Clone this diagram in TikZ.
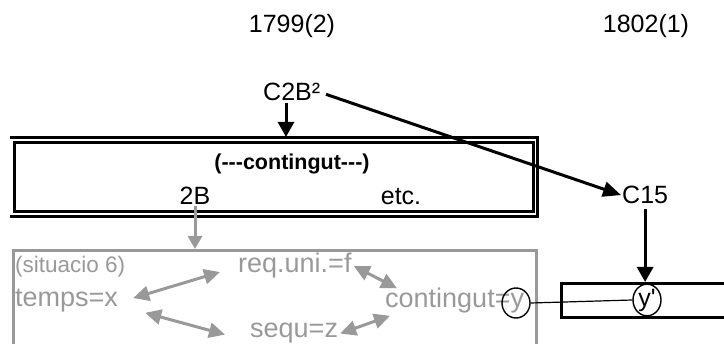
\documentclass[tikz,border=0pt]{standalone}
\usepackage{fontspec}
\newfontfamily\arial{Liberation Sans}
\usetikzlibrary{arrows.meta,shapes.geometric}

\definecolor{grau}{gray}{0.6}

\tikzset{
  schrift/.style={font=\arial\fontsize{25}{30}\selectfont, inner sep=0pt},
  grauschrift/.style={font=\arial\fontsize{27}{32}\selectfont, text=grau, inner sep=0pt},
  pfeil/.style={line width=3pt, -{Triangle[length=15pt,width=16pt]}},
  langpfeil/.style={line width=3pt, -{Triangle[length=18pt,width=15pt]}},
  graupfeil/.style={draw=grau, line width=3pt, {Triangle[length=16pt,width=15pt]}-{Triangle[length=16pt,width=15pt]}},
  grauab/.style={draw=grau, line width=3pt, -{Triangle[length=13pt,width=14pt]}},
  kreis/.style={ellipse, draw, line width=1.4pt, minimum width=28pt, minimum height=30pt, inner sep=0pt},
}

\begin{document}
\begin{tikzpicture}[x=1pt,y=-1pt]
    \useasboundingbox (0,0) rectangle (724,344);

    % jahre
    \node[schrift, anchor=base] (jahr1) at (292,33) {1799(2)};
    \node[schrift, anchor=base] (jahr2) at (646,33) {1802(1)};

    % kasten oben
    \node[draw, line width=3pt, minimum width=519pt, minimum height=69pt, inner sep=0pt] (kasten) at (273.5,177.5) {};
    \draw[line width=3pt] (10,138) -| (537,217) -- (10,217);
    \node[font=\arial\bfseries\fontsize{21.5}{26}\selectfont, inner sep=0pt, anchor=base] (inhalt) at (292,170) {(-\kern0pt-\kern0pt-contingut-\kern0pt-\kern0pt-)};
    \node[schrift, anchor=base] (zwei) at (195,205) {2B};
    \node[schrift, anchor=base] (etc) at (401,205) {etc.};

    \node[schrift, anchor=base west] (c2b) at (263,101) {C2B²};
    \node[schrift, anchor=base west] (c15) at (622,204) {C15};

    % kasten unten (grau)
    \node[draw=grau, line width=3pt, anchor=north west, minimum width=523pt, minimum height=150pt, inner sep=0pt] (gbox) at (12,249) {};
    \node[font=\arial\fontsize{22.5}{27}\selectfont, text=grau, inner sep=0pt, anchor=base west] (situ) at (15,273) {(situacio 6)};
    \node[grauschrift, anchor=base west] (temps) at (15,307) {temps=x};
    \node[grauschrift, anchor=base west] (req) at (238,273) {req.uni.=f};
    \node[grauschrift, anchor=base west] (cont) at (385,308) {contingut=y};
    \node[grauschrift, anchor=base west] (sequ) at (250,338) {sequ=z};

    % kasten rechts
    \node[draw, line width=3pt, anchor=north west, minimum width=200pt, minimum height=34pt, inner sep=0pt] (rbox) at (560,282) {};
    \node[kreis] (ykreis) at (516,303) {};
    \node[kreis, schrift] (yp) at (647,300) {y'};

    % pfeile
    \coordinate (kopf) at (286,137);
    \draw[pfeil, shorten <=2pt] (kopf |- c2b.south) -- (kopf);
    \draw[langpfeil, shorten <=6pt, shorten >=1pt] (c2b.east) -- (c15.west);
    \draw[pfeil, shorten <=5pt] (c15.south) -- (c15.south |- rbox.north);
    \draw[line width=1.2pt] (ykreis.east) -- (yp.west);
    \draw[grauab, shorten <=1pt] (zwei.south) -- (zwei.south |- gbox.north);

    \draw[graupfeil] ([xshift=15pt,yshift=3pt]temps.east) -- ([xshift=-18pt,yshift=-6pt]req.west);
    \draw[graupfeil] ([xshift=27pt]temps.south east) -- ([xshift=-25pt,yshift=-1pt]sequ.west);
    \draw[graupfeil] ([xshift=2pt]req.east) -- ([xshift=12pt]cont.north west);
    \draw[graupfeil] ([xshift=2pt]sequ.east) -- ([xshift=5pt,yshift=-2pt]cont.south west);
\end{tikzpicture}
\end{document}
